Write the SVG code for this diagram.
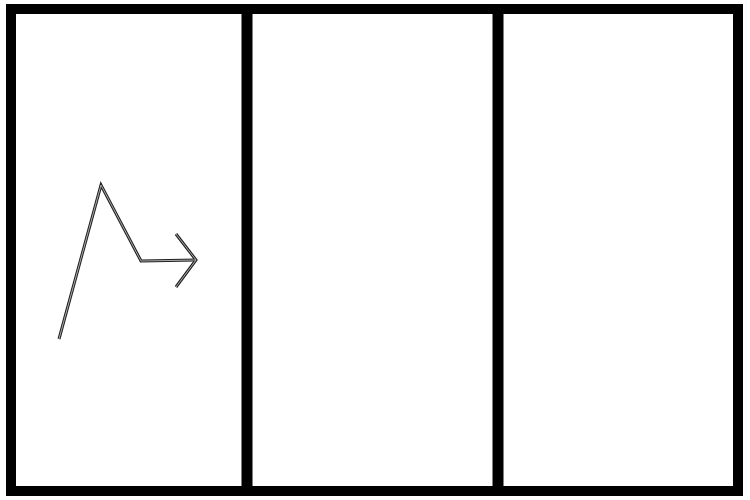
<svg xmlns="http://www.w3.org/2000/svg" width="750" height="500" viewBox="0 0 750 500">
<style>
.frame{fill:none;stroke:#000;stroke-width:10}
.div{stroke:#000;stroke-width:11}
.outer{fill:none;stroke:#222;stroke-width:3;stroke-linejoin:miter;stroke-linecap:butt}
.inner{fill:none;stroke:#aaa;stroke-width:1;stroke-linejoin:miter}
</style>
<rect width="750" height="500" fill="#fff"/>
<g id="frame">
<rect class="frame" x="11" y="9" width="727" height="482"/>
<line class="div" x1="247" y1="9" x2="247" y2="491"/>
<line class="div" x1="498" y1="9" x2="498" y2="491"/>
</g>
<g id="connectors">
<polyline class="outer" points="59,339 101,185 141,261 196,260"/>
<polyline class="outer" points="176,234 196,260 176,287"/>
<polyline class="inner" points="59,339 101,185 141,261 196,260"/>
<polyline class="inner" points="176,234 196,260 176,287"/>
</g>
</svg>
